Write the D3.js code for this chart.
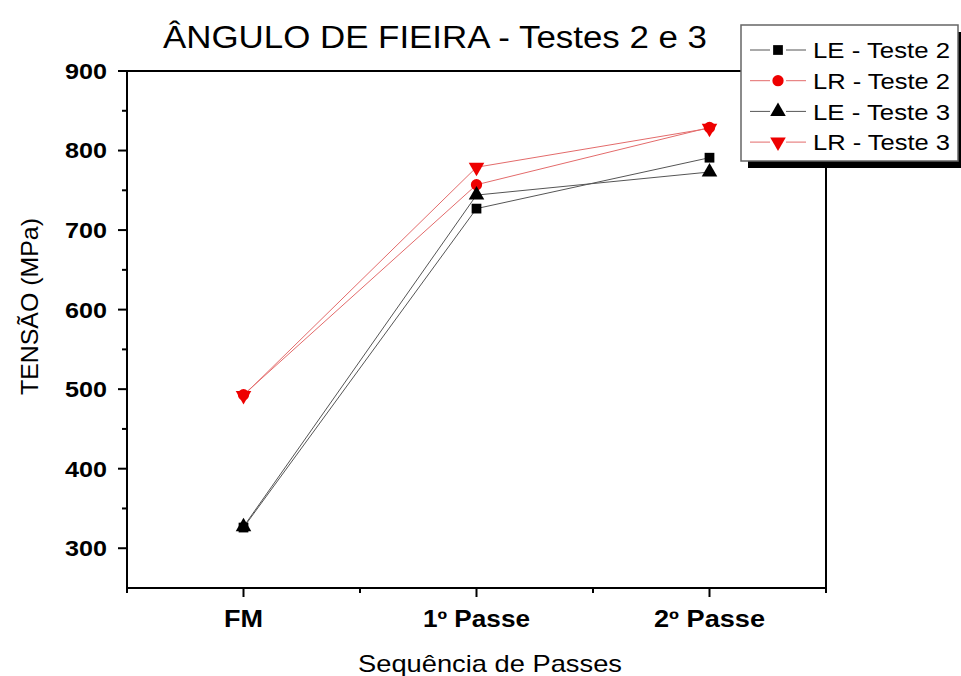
<!DOCTYPE html>
<html><head><meta charset="utf-8">
<script src="https://cdn.jsdelivr.net/npm/d3@7"></script>
<style>body{margin:0;background:#fff}svg{display:block}text{font-family:"Liberation Sans",Arial,sans-serif}</style>
</head><body><svg id="c" width="961" height="676"></svg>
<script>
const categories = ["FM", "1º Passe", "2º Passe"];
const seriesNames = ["LE - Teste 2", "LR - Teste 2", "LE - Teste 3", "LR - Teste 3"];
const leTeste2 = [326, 727, 791];
const lrTeste2 = [493, 757, 829];
const leTeste3 = [327, 744, 773];
const lrTeste3 = [492, 779, 828];
const yTicks = [300, 400, 500, 600, 700, 800, 900];
const seriesValues = [leTeste2, lrTeste2, leTeste3, lrTeste3];
const seriesColors = ["#000", "#e00", "#000", "#e00"];
const lineColors = ["#555", "#e36b6b", "#555", "#e36b6b"];
const seriesSymbols = ["square", "circle", "up", "down"];

const svg = d3.select("#c");
const L = 127, R = 826, T = 71, B = 588;
const x = d3.scalePoint().domain(categories).range([L, R]).padding(0.5);
const y = d3.scaleLinear().domain([250, 900]).range([B, T]);

function sym(type) {
  const s = {square: d3.symbolSquare, circle: d3.symbolCircle, up: d3.symbolTriangle, down: d3.symbolTriangle}[type];
  const size = {square: 95, circle: 100, up: 105, down: 105}[type];
  return d3.symbol().type(s).size(size)();
}

svg.append("rect").attr("x", L).attr("y", T).attr("width", R - L).attr("height", B - T)
  .attr("fill", "none").attr("stroke", "#000").attr("stroke-width", 2);

const g = svg.append("g");
d3.range(300, 901, 50).forEach(v => {
  const major = v % 100 === 0;
  g.append("line").attr("x1", L).attr("x2", L - (major ? 9 : 5)).attr("y1", y(v)).attr("y2", y(v))
    .attr("stroke", "#000").attr("stroke-width", 2);
});
yTicks.forEach(v => {
  g.append("text").attr("x", 107).attr("y", y(v)).attr("dy", "0.36em").attr("text-anchor", "end")
    .attr("font-size", 22).attr("font-weight", "bold")
    .attr("textLength", 42).attr("lengthAdjust", "spacingAndGlyphs").text(v);
});
const step = x.step();
const xLabelLen = [39, 107, 111];
categories.forEach((c, i) => {
  g.append("line").attr("x1", x(c)).attr("x2", x(c)).attr("y1", B).attr("y2", B + 9).attr("stroke", "#000").attr("stroke-width", 2);
  g.append("text").attr("x", x(c) - xLabelLen[i] / 2).attr("y", 627)
    .attr("font-size", 23).attr("font-weight", "bold")
    .attr("textLength", xLabelLen[i]).attr("lengthAdjust", "spacingAndGlyphs").text(c);
});
d3.range(0, 4).forEach(i => {
  const xx = L + i * step;
  g.append("line").attr("x1", xx).attr("x2", xx).attr("y1", B).attr("y2", B + 5).attr("stroke", "#000").attr("stroke-width", 2);
});

const line = d3.line().x((d, i) => x(categories[i])).y(d => y(d));
seriesValues.forEach((vals, k) => {
  svg.append("path").attr("d", line(vals)).attr("fill", "none").attr("stroke", lineColors[k]).attr("stroke-width", 1);
});
seriesValues.forEach((vals, k) => {
  vals.forEach((v, i) => {
    svg.append("path").attr("d", sym(seriesSymbols[k]))
      .attr("transform", `translate(${x(categories[i])},${y(v)})${seriesSymbols[k] === "down" ? " rotate(180)" : ""}`)
      .attr("fill", seriesColors[k]);
  });
});

svg.append("text").attr("x", 163).attr("y", 48).attr("font-size", 31)
  .attr("textLength", 544).attr("lengthAdjust", "spacingAndGlyphs").text("ÂNGULO DE FIEIRA - Testes 2 e 3");
svg.append("text").attr("x", 358).attr("y", 672).attr("font-size", 24)
  .attr("textLength", 264).attr("lengthAdjust", "spacingAndGlyphs").text("Sequência de Passes");
svg.append("text").attr("transform", `translate(38,395) rotate(-90)`).attr("font-size", 24)
  .attr("textLength", 177).attr("lengthAdjust", "spacingAndGlyphs").text("TENSÃO (MPa)");

const lg = svg.append("g");
lg.append("rect").attr("x", 748).attr("y", 32).attr("width", 220).attr("height", 136).attr("fill", "#000");
lg.append("rect").attr("x", 741).attr("y", 25).attr("width", 217).attr("height", 136).attr("fill", "#fff").attr("stroke", "#666").attr("stroke-width", 1.5);
seriesNames.forEach((n, k) => {
  const yy = 50 + k * 30.7;
  lg.append("line").attr("x1", 750).attr("x2", 770).attr("y1", yy).attr("y2", yy).attr("stroke", lineColors[k]).attr("stroke-width", 1);
  lg.append("line").attr("x1", 786).attr("x2", 806).attr("y1", yy).attr("y2", yy).attr("stroke", lineColors[k]).attr("stroke-width", 1);
  lg.append("path").attr("d", sym(seriesSymbols[k]))
    .attr("transform", `translate(778,${yy})${seriesSymbols[k] === "down" ? " rotate(180)" : ""}`).attr("fill", seriesColors[k]);
  lg.append("text").attr("x", 813).attr("y", yy).attr("dy", "0.36em").attr("font-size", 22.5)
    .attr("textLength", 137).attr("lengthAdjust", "spacingAndGlyphs").text(n);
});
</script></body></html>
